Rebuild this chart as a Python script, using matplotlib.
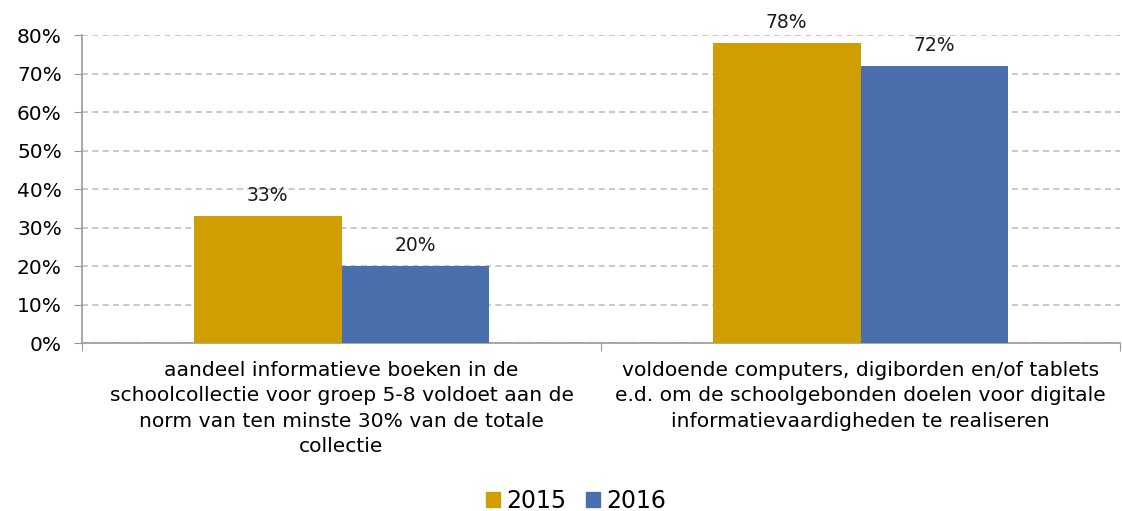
import matplotlib
matplotlib.use("Agg")
import matplotlib.pyplot as plt
import numpy as np
from matplotlib.patches import Patch

plt.rcParams['font.family'] = ['DejaVu Sans']

categories = [
    "aandeel informatieve boeken in de\nschoolcollectie voor groep 5-8 voldoet aan de\nnorm van ten minste 30% van de totale\ncollectie",
    "voldoende computers, digiborden en/of tablets\ne.d. om de schoolgebonden doelen voor digitale\ninformatievaardigheden te realiseren",
]
series_names = ["2015", "2016"]
values_2015 = [0.33, 0.78]
values_2016 = [0.20, 0.72]
value_labels_2015 = ["33%", "78%"]
value_labels_2016 = ["20%", "72%"]
yticks = [0, 0.1, 0.2, 0.3, 0.4, 0.5, 0.6, 0.7, 0.8]
ytick_labels = ["0%", "10%", "20%", "30%", "40%", "50%", "60%", "70%", "80%"]

gold = "#D09E00"
blue = "#4A6FAD"

fig = plt.figure(figsize=(11.22, 5.11), dpi=100)
ax = fig.add_axes([82/1122, 168/511, (1120-82)/1122, (476-168)/511])

x = np.arange(len(categories))
w = 0.285
b1 = ax.bar(x - w/2, values_2015, w, color=gold, zorder=3)
b2 = ax.bar(x + w/2, values_2016, w, color=blue, zorder=3)

for bars, labels in ((b1, value_labels_2015), (b2, value_labels_2016)):
    for rect, lab in zip(bars, labels):
        ax.annotate(lab, (rect.get_x() + rect.get_width()/2, rect.get_height()),
                    xytext=(0, 8), textcoords="offset points", ha="center", va="bottom",
                    fontsize=13.5, color="#1a1a1a")

ax.set_xlim(-0.5, 1.5)
ax.set_ylim(0, 0.8)
ax.set_yticks(yticks)
ax.set_yticklabels(ytick_labels, fontsize=14.5)
ax.yaxis.grid(True, linestyle=(0, (3.6, 2.6)), color="#BFBFBF", linewidth=1.2, zorder=0)
ax.set_axisbelow(True)

ax.set_xticks([-0.5, 0.5, 1.5])
ax.set_xticklabels([])
ax.set_xticks(x, minor=True)
ax.set_xticklabels(categories, minor=True, fontsize=14.6, linespacing=1.42)
ax.tick_params(axis="x", which="minor", length=0, pad=13)
ax.tick_params(axis="x", which="major", length=5.5, color="#999999", direction="out")
ax.tick_params(axis="y", length=5.5, color="#999999", pad=9)
for lab in ax.get_xticklabels(minor=True):
    lab.set_ha("center")
    lab.set_multialignment("center")

for s in ["top", "right"]:
    ax.spines[s].set_visible(False)
for s in ["left", "bottom"]:
    ax.spines[s].set_color("#999999")
    ax.spines[s].set_linewidth(1.2)

handles = [Patch(color=gold, label=series_names[0]), Patch(color=blue, label=series_names[1])]
fig.legend(handles=handles, loc="center", bbox_to_anchor=(576/1122, 1 - 501/511),
           ncol=2, frameon=False, fontsize=17, handlelength=0.6, handleheight=0.6,
           handletextpad=0.25, columnspacing=0.85, borderpad=0.0)

fig.savefig("out.png", dpi=100)
